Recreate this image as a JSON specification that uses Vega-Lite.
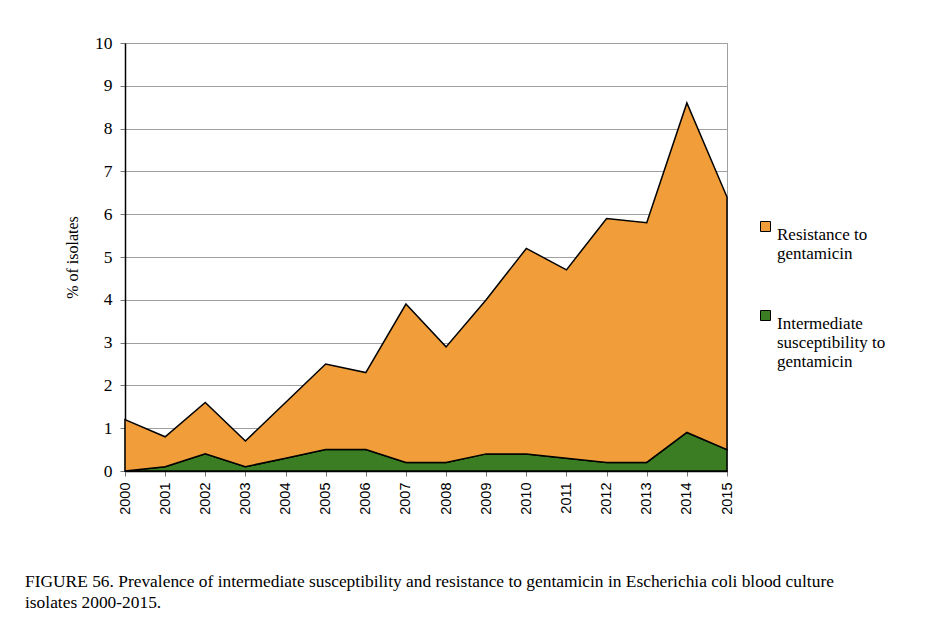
{
  "$schema": "https://vega.github.io/schema/vega-lite/v6.json",
  "autosize": "none",
  "width": 602,
  "height": 428,
  "padding": {"left": 125, "top": 43, "right": 199, "bottom": 173},
  "background": "white",
  "config": {
    "view": {"stroke": "#a0a0a0", "strokeWidth": 1},
    "font": "Liberation Serif"
  },
  "title": {
    "text": ["FIGURE 56. Prevalence of intermediate susceptibility and resistance to gentamicin in Escherichia coli blood culture", "isolates 2000-2015."],
    "orient": "bottom",
    "anchor": "start",
    "frame": "group",
    "dx": -100,
    "offset": 59,
    "font": "Liberation Serif",
    "fontSize": 17.4,
    "fontWeight": "normal",
    "lineHeight": 21,
    "color": "black"
  },
  "data": {
    "values": [
      {"year": "2000", "series": "Intermediate susceptibility to gentamicin", "pct": 0.0},
      {"year": "2001", "series": "Intermediate susceptibility to gentamicin", "pct": 0.1},
      {"year": "2002", "series": "Intermediate susceptibility to gentamicin", "pct": 0.4},
      {"year": "2003", "series": "Intermediate susceptibility to gentamicin", "pct": 0.1},
      {"year": "2004", "series": "Intermediate susceptibility to gentamicin", "pct": 0.3},
      {"year": "2005", "series": "Intermediate susceptibility to gentamicin", "pct": 0.5},
      {"year": "2006", "series": "Intermediate susceptibility to gentamicin", "pct": 0.5},
      {"year": "2007", "series": "Intermediate susceptibility to gentamicin", "pct": 0.2},
      {"year": "2008", "series": "Intermediate susceptibility to gentamicin", "pct": 0.2},
      {"year": "2009", "series": "Intermediate susceptibility to gentamicin", "pct": 0.4},
      {"year": "2010", "series": "Intermediate susceptibility to gentamicin", "pct": 0.4},
      {"year": "2011", "series": "Intermediate susceptibility to gentamicin", "pct": 0.3},
      {"year": "2012", "series": "Intermediate susceptibility to gentamicin", "pct": 0.2},
      {"year": "2013", "series": "Intermediate susceptibility to gentamicin", "pct": 0.2},
      {"year": "2014", "series": "Intermediate susceptibility to gentamicin", "pct": 0.9},
      {"year": "2015", "series": "Intermediate susceptibility to gentamicin", "pct": 0.5},
      {"year": "2000", "series": "Resistance to gentamicin", "pct": 1.2},
      {"year": "2001", "series": "Resistance to gentamicin", "pct": 0.7},
      {"year": "2002", "series": "Resistance to gentamicin", "pct": 1.2},
      {"year": "2003", "series": "Resistance to gentamicin", "pct": 0.6},
      {"year": "2004", "series": "Resistance to gentamicin", "pct": 1.3},
      {"year": "2005", "series": "Resistance to gentamicin", "pct": 2.0},
      {"year": "2006", "series": "Resistance to gentamicin", "pct": 1.8},
      {"year": "2007", "series": "Resistance to gentamicin", "pct": 3.7},
      {"year": "2008", "series": "Resistance to gentamicin", "pct": 2.7},
      {"year": "2009", "series": "Resistance to gentamicin", "pct": 3.6},
      {"year": "2010", "series": "Resistance to gentamicin", "pct": 4.8},
      {"year": "2011", "series": "Resistance to gentamicin", "pct": 4.4},
      {"year": "2012", "series": "Resistance to gentamicin", "pct": 5.7},
      {"year": "2013", "series": "Resistance to gentamicin", "pct": 5.6},
      {"year": "2014", "series": "Resistance to gentamicin", "pct": 7.7},
      {"year": "2015", "series": "Resistance to gentamicin", "pct": 5.9}
    ]
  },
  "mark": {"type": "area", "stroke": "black", "strokeWidth": 1.5, "opacity": 1, "fillOpacity": 1},
  "encoding": {
    "x": {
      "field": "year",
      "type": "ordinal",
      "scale": {"type": "point", "padding": 0},
      "axis": {
        "title": null,
        "labelAngle": -90,
        "labelFont": "Liberation Sans",
        "labelFontSize": 14.5,
        "labelColor": "black",
        "labelPadding": 6,
        "domainColor": "black",
        "domainWidth": 1.5,
        "tickColor": "#777",
        "tickSize": 5,
        "grid": false
      }
    },
    "y": {
      "field": "pct",
      "type": "quantitative",
      "stack": "zero",
      "scale": {"domain": [0, 10], "nice": false},
      "axis": {
        "title": "% of isolates",
        "titleFont": "Liberation Serif",
        "titleFontSize": 16,
        "titleFontWeight": "normal",
        "titleColor": "black",
        "titlePadding": 14,
        "values": [0, 1, 2, 3, 4, 5, 6, 7, 8, 9, 10],
        "labelFont": "Liberation Serif",
        "labelFontSize": 17.5,
        "labelColor": "black",
        "labelPadding": 8,
        "domainColor": "black",
        "domainWidth": 1.5,
        "tickColor": "#777",
        "tickSize": 5,
        "gridColor": "#a0a0a0",
        "gridWidth": 1
      }
    },
    "order": {"field": "series", "type": "nominal", "sort": "ascending"},
    "color": {
      "field": "series",
      "type": "nominal",
      "scale": {
        "domain": ["Resistance to gentamicin", "Intermediate susceptibility to gentamicin"],
        "range": ["#F19E3A", "#3A7D23"]
      },
      "legend": {
        "title": null,
        "orient": "none",
        "legendX": 632,
        "legendY": 175,
        "symbolType": "square",
        "symbolSize": 100,
        "symbolStrokeColor": "black",
        "symbolStrokeWidth": 1,
        "labelFont": "Liberation Serif",
        "labelFontSize": 17,
        "labelColor": "black",
        "labelLimit": 300,
        "labelBaseline": "top",
        "labelOffset": 3,
        "rowPadding": 45,
        "labelExpr": "datum.label == 'Resistance to gentamicin' ? ['Resistance to', 'gentamicin'] : ['Intermediate', 'susceptibility to', 'gentamicin']"
      }
    }
  }
}
